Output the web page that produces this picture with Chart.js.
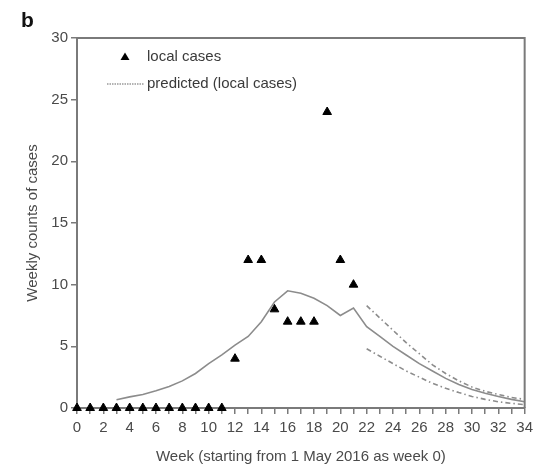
<!DOCTYPE html>
<html>
<head>
<meta charset="utf-8">
<script src="https://cdn.jsdelivr.net/npm/chart.js@4"></script>
<style>
  html, body { margin: 0; padding: 0; background: #fff; }
  #wrap { width: 538px; height: 466px; position: relative; }
</style>
</head>
<body>
<div id="wrap"><canvas id="grafica" width="538" height="466"></canvas></div>
<script>
// observed weekly local cases (weeks 0..21)
const caseWeeks = [0,1,2,3,4,5,6,7,8,9,10,11,12,13,14,15,16,17,18,19,20,21];
const caseCounts = [0,0,0,0,0,0,0,0,0,0,0,0,4,12,12,8,7,7,7,24,12,10];

// predicted curve (weeks 3..34)
const predWeeks = [3,4,5,6,7,8,9,10,11,12,13,14,15,16,17,18,19,20,21,22,23,24,25,26,27,28,29,30,31,32,33,34];
const predValues = [0.67,0.9,1.1,1.4,1.75,2.2,2.8,3.6,4.3,5.1,5.8,7.0,8.6,9.5,9.3,8.9,8.3,7.5,8.1,6.6,5.8,5.0,4.3,3.6,3.0,2.4,1.9,1.5,1.2,0.94,0.7,0.5];

// prediction bounds (weeks 22..34)
const boundWeeks = [22,23,24,25,26,27,28,29,30,31,32,33,34];
const upperValues = [8.3,7.3,6.3,5.3,4.4,3.5,2.8,2.2,1.7,1.35,1.1,0.85,0.7];
const lowerValues = [4.8,4.2,3.6,3.0,2.5,2.0,1.6,1.25,0.94,0.7,0.5,0.38,0.27];

const legendLabels = ['local cases', 'predicted (local cases)'];
const xTitle = 'Week (starting from 1 May 2016 as week 0)';
const yTitle = 'Weekly counts of cases';

const toXY = (xs, ys) => xs.map((x, i) => ({x: x, y: ys[i]}));

const textColor = '#4a4a4a';
const axisColor = '#7a7a7a';
const fnt = 'Liberation Sans, Arial, sans-serif';

// frame, panel letter and legend
const extras = {
  id: 'extras',
  afterDraw(chart) {
    const ctx = chart.ctx;
    const a = chart.chartArea;
    ctx.save();
    ctx.strokeStyle = axisColor;
    ctx.lineWidth = 2;
    ctx.beginPath();
    ctx.moveTo(a.left, a.top);
    ctx.lineTo(a.right, a.top);
    ctx.lineTo(a.right, a.bottom);
    ctx.stroke();

    ctx.fillStyle = '#111';
    ctx.font = 'bold 21px ' + fnt;
    ctx.textBaseline = 'alphabetic';
    ctx.fillText('b', 21, 27);

    // legend
    ctx.fillStyle = '#000';
    ctx.beginPath();
    ctx.moveTo(125, 52.5);
    ctx.lineTo(129.5, 60);
    ctx.lineTo(120.5, 60);
    ctx.closePath();
    ctx.fill();
    ctx.strokeStyle = '#999';
    ctx.lineWidth = 1.5;
    ctx.setLineDash([1.5, 1]);
    ctx.beginPath();
    ctx.moveTo(107, 84);
    ctx.lineTo(144, 84);
    ctx.stroke();
    ctx.setLineDash([]);
    ctx.fillStyle = '#3a3a3a';
    ctx.font = '15px ' + fnt;
    ctx.textBaseline = 'middle';
    ctx.fillText(legendLabels[0], 147, 57);
    ctx.fillText(legendLabels[1], 147, 84);
    ctx.restore();
  }
};

new Chart(document.getElementById('grafica'), {
  type: 'scatter',
  data: {
    datasets: [
      {
        label: legendLabels[1],
        type: 'line',
        data: toXY(predWeeks, predValues),
        borderColor: '#8c8c8c',
        borderWidth: 1.6,
        pointRadius: 0,
        tension: 0,
        fill: false
      },
      {
        label: 'upper',
        type: 'line',
        data: toXY(boundWeeks, upperValues),
        borderColor: '#8c8c8c',
        borderWidth: 1.6,
        borderDash: [5, 3, 1.5, 3],
        pointRadius: 0,
        fill: false
      },
      {
        label: 'lower',
        type: 'line',
        data: toXY(boundWeeks, lowerValues),
        borderColor: '#8c8c8c',
        borderWidth: 1.6,
        borderDash: [5, 3, 1.5, 3],
        pointRadius: 0,
        fill: false
      },
      {
        label: legendLabels[0],
        data: toXY(caseWeeks, caseCounts),
        pointStyle: 'triangle',
        pointRadius: 5,
        backgroundColor: '#000',
        borderColor: '#000',
        borderWidth: 1,
        clip: false
      }
    ]
  },
  options: {
    responsive: false,
    animation: false,
    layout: { padding: { top: 38, right: 13, left: 0, bottom: 0 } },
    plugins: {
      legend: { display: false },
      tooltip: { enabled: false }
    },
    scales: {
      x: {
        type: 'linear',
        min: 0,
        max: 34,
        afterFit: (s) => { s.height = 58; },
        border: { display: true, color: axisColor, width: 2 },
        grid: { drawOnChartArea: false, drawTicks: true, tickLength: 6, color: axisColor, lineWidth: 1.5 },
        ticks: {
          stepSize: 1,
          autoSkip: false,
          maxRotation: 0,
          padding: 5,
          color: textColor,
          font: { family: fnt, size: 15 },
          callback: (v) => (v % 2 === 0 ? String(v) : '')
        },
        title: {
          display: true,
          text: xTitle,
          color: textColor,
          font: { family: fnt, size: 15 },
          padding: { top: 2, bottom: 0 }
        }
      },
      y: {
        min: 0,
        max: 30,
        afterFit: (s) => { s.width = 77; },
        border: { display: true, color: axisColor, width: 2 },
        grid: { drawOnChartArea: false, drawTicks: true, tickLength: 6, color: axisColor, lineWidth: 1.5 },
        ticks: {
          stepSize: 5,
          padding: 3,
          color: textColor,
          font: { family: fnt, size: 15 }
        },
        title: {
          display: true,
          text: yTitle,
          color: textColor,
          font: { family: fnt, size: 15 },
          padding: { top: 24, bottom: 0 }
        }
      }
    }
  },
  plugins: [extras]
});
</script>
</body>
</html>
